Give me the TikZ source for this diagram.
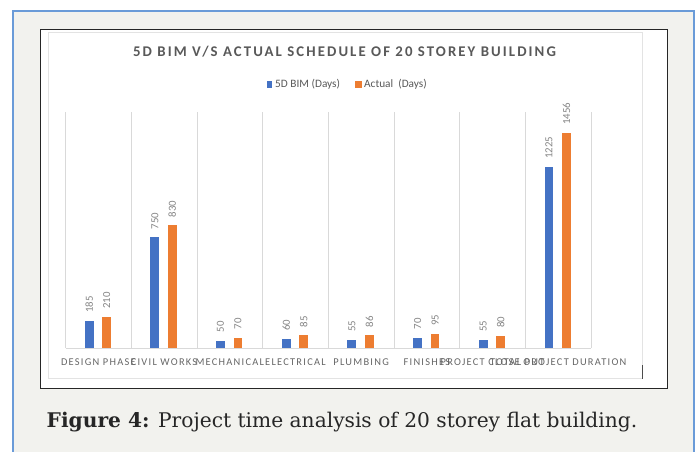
\documentclass[tikz,border=0pt]{standalone}
\usepackage{fontspec}
\setmainfont{DejaVu Serif}
\newfontfamily\chartfont{Carlito}
\newfontfamily\catfont[LetterSpace=12]{Carlito}
\newfontfamily\titlefont[LetterSpace=14]{Carlito}
\definecolor{pagebg}{HTML}{F2F2EE}
\definecolor{framec}{HTML}{6A9BD8}
\definecolor{innerc}{HTML}{E3E3E3}
\definecolor{gridc}{HTML}{D9D9D9}
\definecolor{bimc}{HTML}{4472C4}
\definecolor{actc}{HTML}{ED7D31}
\definecolor{titlec}{HTML}{595959}
\definecolor{catc}{HTML}{666666}
\definecolor{valc}{HTML}{858585}
\tikzset{
  gridline/.style={draw=gridc, line width=0.8pt},
  bimbar/.style={fill=bimc},
  actbar/.style={fill=actc},
  vallabel/.style={rotate=90, anchor=west, inner sep=0, text=valc, font=\chartfont\fontsize{10.8}{12}\selectfont},
  catlabel/.style={anchor=center, inner sep=0, text=catc, font=\catfont\fontsize{10.4}{12}\selectfont},
  legtext/.style={anchor=west, inner sep=0, text=titlec, font=\chartfont\fontsize{11.3}{13}\selectfont},
}
\begin{document}
\begin{tikzpicture}[x=1pt,y=-1pt]
\useasboundingbox (0,0) rectangle (696,452);
\fill[white] (0,0) rectangle (696,452);
\fill[pagebg] (13,11) rectangle (694,452);
\draw[framec, line width=1.2pt] (13,452) -- (13,11) -- (694,11) -- (694,452);
% chart box
\filldraw[fill=white, draw=black!85, line width=1.1pt] (40.5,29.5) rectangle (667.5,388.5);
\draw[innerc, line width=0.8pt] (48,32) rectangle (642,378);
\draw[black!70, line width=0.9pt] (642,365) -- (642,379);
% title and legend
\node[inner sep=0, text=titlec, font=\titlefont\bfseries\fontsize{14.8}{17}\selectfont] (title) at (344.5,52) {5D BIM V/S ACTUAL SCHEDULE OF 20 STOREY BUILDING};
\fill[bimc] (266.5,81) rectangle (271.5,88);
\node[legtext] (leg1) at (275,84.5) {5D BIM (Days)};
\fill[actc] (355,81) rectangle (361.5,88);
\node[legtext] (leg2) at (364,84.5) {Actual\ \ (Days)};
% grid
\foreach \k in {0,...,8} {
  \draw[gridline] ({65.5+65.7*\k},112) -- ({65.5+65.7*\k},348);
}
\draw[gridline] (65.5,348) -- (591.1,348);
% bars
\foreach \i/\b/\a/\name in {0/185/210/DESIGN PHASE,1/750/830/CIVIL WORKS,2/50/70/MECHANICAL,3/60/85/ELECTRICAL,4/55/86/PLUMBING,5/70/95/FINISHES,6/55/80/PROJECT CLOSE OUT,7/1225/1456/TOTAL PROJECT DURATION} {
  \pgfmathsetmacro{\c}{65.5+65.7*(\i+0.5)}
  \pgfmathsetmacro{\hb}{348-0.14766*\b}
  \pgfmathsetmacro{\ha}{348-0.14766*\a}
  \fill[bimbar] ({\c-13.7},\hb) rectangle ({\c-4.8},348);
  \fill[actbar] ({\c+3.8},\ha) rectangle ({\c+12.6},348);
  \node[vallabel] (vb\i) at ({\c-9.25},{\hb-8}) {\b};
  \node[vallabel] (va\i) at ({\c+8.2},{\ha-8}) {\a};
  \node[catlabel] (cat\i) at (\c,362) {\name};
}
% caption
\node[anchor=west, inner sep=0, font=\fontsize{20.2}{24}\selectfont, text=black!85] (caption) at (46.5,422) {\textbf{Figure 4:} Project time analysis of 20 storey flat building.};
\end{tikzpicture}
\end{document}
